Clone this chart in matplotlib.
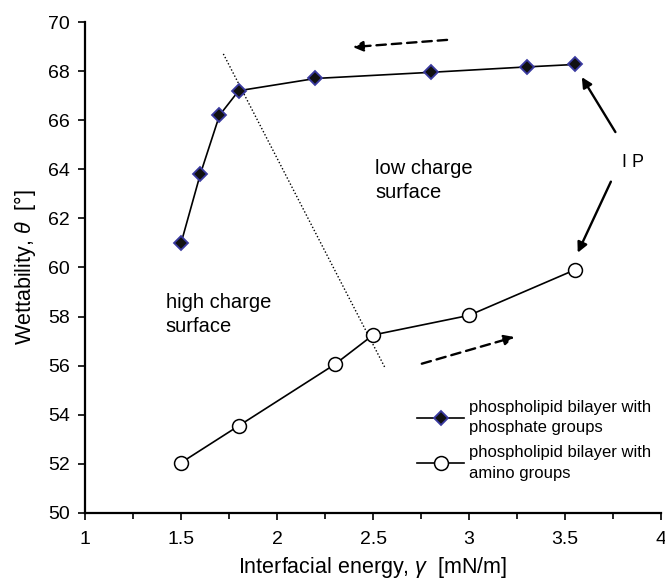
import matplotlib
matplotlib.use("Agg")
import matplotlib.pyplot as plt
from matplotlib.ticker import MultipleLocator

plt.rcParams["font.family"] = ["Liberation Sans", "DejaVu Sans"]
plt.rcParams["mathtext.fontset"] = "custom"
plt.rcParams["mathtext.it"] = "Liberation Sans:italic"
plt.rcParams["mathtext.rm"] = "Liberation Sans"

# phospholipid bilayer with phosphate groups
phosphate_x = [1.5, 1.6, 1.7, 1.8, 2.2, 2.8, 3.3, 3.55]
phosphate_y = [61.0, 63.8, 66.2, 67.2, 67.7, 67.95, 68.17, 68.27]

# phospholipid bilayer with amino groups
amino_x = [1.5, 1.8, 2.3, 2.5, 3.0, 3.55]
amino_y = [52.05, 53.55, 56.05, 57.25, 58.05, 59.9]

# dotted boundary between high and low charge surface
boundary_x = [1.72, 2.56]
boundary_y = [68.7, 55.95]

fig = plt.figure(figsize=(6.65, 5.79), dpi=100)
ax = fig.add_axes([0.128, 0.114, 0.866, 0.848])

ax.plot(phosphate_x, phosphate_y, color="black", lw=1.2, marker="D", ms=7.5,
        mfc="#111111", mec="#3a3aa0", mew=1.3,
        label="phospholipid bilayer with\nphosphate groups", zorder=3)
ax.plot(amino_x, amino_y, color="black", lw=1.2, marker="o", ms=10,
        mfc="white", mec="black", mew=1.1,
        label="phospholipid bilayer with\namino groups", zorder=3)
ax.plot(boundary_x, boundary_y, color="black", lw=1.0, ls=(0, (1, 1.5)), zorder=2)

# dashed direction arrows
ax.annotate("", xy=(2.38, 68.97), xytext=(2.9, 69.28),
            arrowprops=dict(arrowstyle="-|>", color="black", lw=1.7,
                            ls=(0, (4, 2.5)), mutation_scale=15))
ax.annotate("", xy=(3.25, 57.2), xytext=(2.74, 56.05),
            arrowprops=dict(arrowstyle="-|>", color="black", lw=1.7,
                            ls=(0, (4, 2.5)), mutation_scale=15))

# IP label with arrows
ax.text(3.855, 64.26, "I P", fontsize=13, ha="center", va="center")
ax.annotate("", xy=(3.58, 67.85), xytext=(3.77, 65.42),
            arrowprops=dict(arrowstyle="-|>", color="black", lw=1.7, mutation_scale=15))
ax.annotate("", xy=(3.56, 60.5), xytext=(3.745, 63.6),
            arrowprops=dict(arrowstyle="-|>", color="black", lw=1.7, mutation_scale=15))

ax.text(2.51, 64.4, "low charge\nsurface", fontsize=14.5, ha="left", va="top", linespacing=1.32)
ax.text(1.42, 58.95, "high charge\nsurface", fontsize=14.5, ha="left", va="top", linespacing=1.32)

ax.set_xlim(1, 4)
ax.set_ylim(50, 70)
ax.xaxis.set_major_locator(MultipleLocator(0.5))
ax.xaxis.set_minor_locator(MultipleLocator(0.25))
ax.yaxis.set_major_locator(MultipleLocator(2))
ax.xaxis.set_major_formatter(plt.FuncFormatter(lambda v, p: f"{v:g}"))
ax.tick_params(axis="both", which="both", direction="out", labelsize=14, width=1.2)
ax.tick_params(axis="both", which="major", length=5)
ax.tick_params(axis="x", which="minor", length=4)
ax.tick_params(axis="x", which="major", pad=8)
ax.tick_params(axis="y", which="major", pad=6)
for side in ["top", "right"]:
    ax.spines[side].set_visible(False)
for side in ["left", "bottom"]:
    ax.spines[side].set_linewidth(1.6)

ax.set_xlabel("Interfacial energy, $\\gamma$  [mN/m]", fontsize=15.5, labelpad=5)
ax.set_ylabel("Wettability, $\\theta$  [°]", fontsize=15.5, labelpad=7.5)

leg = ax.legend(loc="lower right", bbox_to_anchor=(1.0, 0.045), frameon=False, fontsize=12,
                handlelength=2.8, handletextpad=0.3, labelspacing=0.6, borderaxespad=0.2)
for t in leg.get_texts():
    t.set_linespacing(1.45)

fig.savefig("out.png", dpi=100)
